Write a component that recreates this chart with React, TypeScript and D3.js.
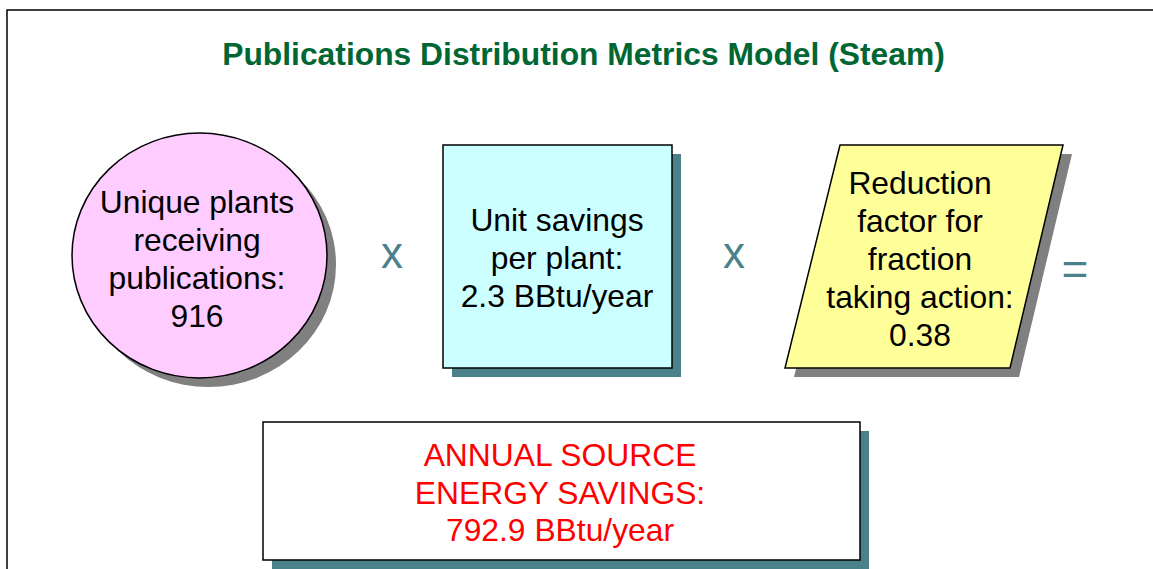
import React from 'react';
import * as d3 from 'd3';

// diagram content
const titleText = 'Publications Distribution Metrics Model (Steam)';
const circleLines = ['Unique plants', 'receiving', 'publications:', '916'];
const boxLines = ['Unit savings', 'per plant:', '2.3 BBtu/year'];
const paraLines = ['Reduction', 'factor for', 'fraction', 'taking action:', '0.38'];
const resultLines = ['ANNUAL SOURCE', 'ENERGY SAVINGS:', '792.9 BBtu/year'];
const operators = ['x', 'x', '='];

const W = 1153;
const H = 569;
const FONT = '"Liberation Sans", Arial, Helvetica, sans-serif';
const TEAL = '#4b818a';
const GREY = '#808080';
const SH = 9; // shadow offset

// stacked, centred lines of text
const Lines = ({ lines, cx, cy, step, size, fill }) => {
  const off = (lines.length - 1) / 2;
  return (
    <text fontFamily={FONT} fontSize={size} fill={fill} textAnchor="middle">
      {lines.map((t, i) => (
        <tspan key={i} x={cx} y={cy + (i - off) * step + 11}>{t}</tspan>
      ))}
    </text>
  );
};

const App = () => {
  const para: [number, number][] = [[840, 145], [1063, 145], [1010, 368], [785, 368]];
  const paraPath = d3.line().curve(d3.curveLinearClosed)(para);
  const paraShadow = d3.line().curve(d3.curveLinearClosed)(para.map(([x, y]) => [x + SH, y + SH]));

  const opX = [392, 734, 1075];
  const opY = [268, 268, 285];

  return (
    <svg width={W} height={H} style={{ position: 'absolute', left: 0, top: 0, background: '#fff' }}>
      {/* outer frame, cut off at right and bottom */}
      <rect x={7} y={10} width={W} height={H} fill="none" stroke="#000" strokeWidth={1.5} />

      <text x={583.5} y={65} textAnchor="middle" fontFamily={FONT} fontWeight="bold" fontSize={31.8} fill="#006633">
        {titleText}
      </text>

      {/* circle */}
      <ellipse cx={199.5 + SH} cy={255.5 + SH} rx={127.5} ry={122.5} fill={GREY} />
      <ellipse cx={199.5} cy={255.5} rx={127.5} ry={122.5} fill="#ffccff" stroke="#000" strokeWidth={1.5} />
      <Lines lines={circleLines} cx={197} cy={259} step={38} size={31.8} fill="#000" />

      {/* square */}
      <rect x={443 + SH} y={145 + SH} width={229} height={223} fill={TEAL} />
      <rect x={443} y={145} width={229} height={223} fill="#ccffff" stroke="#000" strokeWidth={1.5} />
      <Lines lines={boxLines} cx={557} cy={258} step={38} size={31.8} fill="#000" />

      {/* parallelogram */}
      <path d={paraShadow} fill={GREY} />
      <path d={paraPath} fill="#ffff99" stroke="#000" strokeWidth={1.5} />
      <Lines lines={paraLines} cx={920} cy={259} step={38} size={31.8} fill="#000" />

      {/* operators */}
      {operators.map((op, i) => (
        <text key={i} x={opX[i]} y={opY[i]} textAnchor="middle" fontFamily={FONT}
          fontSize={op === '=' ? 46 : 44} fill={TEAL}>{op}</text>
      ))}

      {/* result */}
      <rect x={263 + SH} y={422 + SH} width={597} height={138} fill={TEAL} />
      <rect x={263} y={422} width={597} height={138} fill="#fff" stroke="#000" strokeWidth={1.5} />
      <Lines lines={resultLines} cx={560} cy={492.5} step={37.5} size={31.8} fill="#ff0000" />
    </svg>
  );
};

export default App;
